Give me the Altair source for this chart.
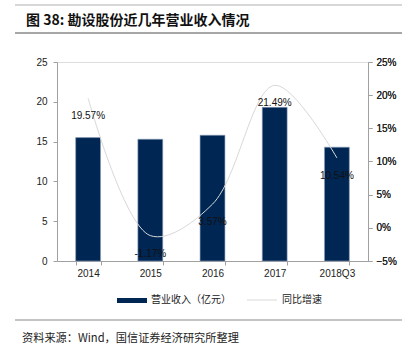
import altair as alt
import pandas as pd

categories = ["2014", "2015", "2016", "2017", "2018Q3"]
revenue = [15.5, 15.3, 15.8, 19.3, 14.3]
growth = [0.1957, -0.0117, 0.0357, 0.2149, 0.1054]
growth_labels = ["19.57%", "-1.17%", "3.57%", "21.49%", "10.54%"]

df = pd.DataFrame({"cat": categories, "rev": revenue, "g": growth, "lab": growth_labels})

FONT = "Liberation Sans"
CJK = "Noto Sans CJK SC"
AX = "#a0a0a0"

x = alt.X("cat:N", sort=categories, title=None,
          scale=alt.Scale(paddingInner=0.6, paddingOuter=0.3),
          axis=alt.Axis(labelAngle=0, tickBand="extent", domainColor=AX, tickColor=AX,
                        tickSize=4, labelFont=FONT, labelFontSize=10, labelColor="#222",
                        labelPadding=3, grid=False))

base = alt.Chart(df)

bars = base.mark_bar(color="#002654", stroke="#8ea0b8", strokeWidth=0.6).encode(
    x=x,
    y=alt.Y("rev:Q", title=None,
            scale=alt.Scale(domain=[0, 25], nice=False),
            axis=alt.Axis(values=[0, 5, 10, 15, 20, 25], domainColor=AX, tickColor=AX,
                          tickSize=4, labelFont=FONT, labelFontSize=10, labelColor="#222",
                          labelPadding=6, grid=False, orient="left")),
)

yg = alt.Y("g:Q", title=None,
           scale=alt.Scale(domain=[-0.05, 0.25], nice=False),
           axis=alt.Axis(values=[-0.05, 0, 0.05, 0.1, 0.15, 0.2, 0.25], format=".0%",
                         domainColor=AX, tickColor=AX, tickSize=4, labelFont=FONT,
                         labelFontSize=10, labelColor="#222", labelPadding=4,
                         grid=False, orient="right"))

line = base.mark_line(color="#d8d8d8", strokeWidth=1, interpolate="catmull-rom").encode(
    x=x, y=yg)

labels = base.mark_text(font=FONT, fontSize=10, color="#111", dy=18).encode(
    x=x, y=yg, text="lab:N")

one = alt.Chart(pd.DataFrame({"a": [0]}))

title = one.mark_text(text="图 38:  勘设股份近几年营业收入情况", font=CJK, fontSize=14,
                      fontWeight="bold", align="left", baseline="middle", color="#111").encode(
    x=alt.value(-31), y=alt.value(-41))
rule_top = one.mark_rule(color="#b0b0b0", strokeWidth=1.2).encode(
    x=alt.value(-42), x2=alt.value(345), y=alt.value(-57))
rule_title = one.mark_rule(color="#8a8a8a", strokeWidth=1.6).encode(
    x=alt.value(-42), x2=alt.value(345), y=alt.value(-29))
rule_foot = one.mark_rule(color="#8a8a8a", strokeWidth=1.2).encode(
    x=alt.value(-42), x2=alt.value(345), y=alt.value(258))
foot = one.mark_text(text="资料来源：Wind，国信证券经济研究所整理", font=CJK, fontSize=11.2,
                     align="left", baseline="middle", color="#222").encode(
    x=alt.value(-35), y=alt.value(277))

leg_rect = one.mark_rect(color="#002654").encode(
    x=alt.value(60), x2=alt.value(90), y=alt.value(236), y2=alt.value(241))
leg_text1 = one.mark_text(text="营业收入（亿元）", font=CJK, fontSize=10, align="left",
                          baseline="middle", color="#222").encode(
    x=alt.value(94), y=alt.value(238))
leg_line = one.mark_rule(color="#d8d8d8", strokeWidth=1).encode(
    x=alt.value(190), x2=alt.value(220), y=alt.value(238))
leg_text2 = one.mark_text(text="同比增速", font=CJK, fontSize=10, align="left",
                          baseline="middle", color="#222").encode(
    x=alt.value(225), y=alt.value(238))

main = alt.layer(bars, line, labels).resolve_scale(y="independent")

chart = alt.layer(main, title, rule_top, rule_title, rule_foot, foot,
                  leg_rect, leg_text1, leg_line, leg_text2).properties(
    width=311, height=199,
    autosize=alt.AutoSizeParams(type="none"),
    padding={"left": 57, "top": 62, "right": 39, "bottom": 94},
).configure_view(stroke=None).configure(background="white")

chart.save("out.html", embed_options={"renderer": "svg", "actions": False})
